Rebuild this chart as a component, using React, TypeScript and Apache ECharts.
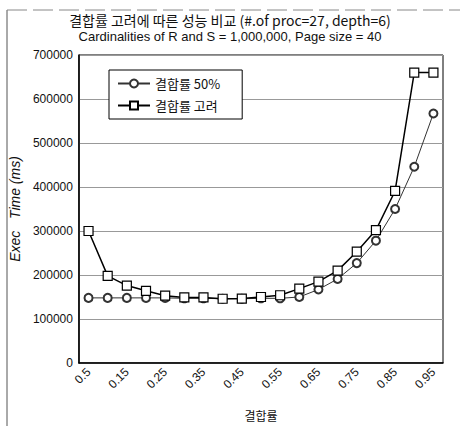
import React, { useEffect, useRef } from "react";
import * as echarts from "echarts";

const categories = ["0.5", "0.1", "0.15", "0.2", "0.25", "0.3", "0.35", "0.4", "0.45", "0.5", "0.55", "0.6", "0.65", "0.7", "0.75", "0.8", "0.85", "0.9", "0.95"];
const rate50 = [148000, 148000, 148000, 148000, 148000, 147000, 147000, 146000, 146000, 147000, 147000, 150000, 167000, 191000, 227000, 278000, 350000, 446000, 567000];
const rateConsidered = [300000, 198000, 176000, 164000, 153000, 149000, 149000, 146000, 146500, 150000, 154000, 169000, 185000, 210000, 253000, 302000, 391000, 660000, 660000];
const seriesNames = ["결합률 50%", "결합률 고려"];

export default function App() {
  const ref = useRef<HTMLDivElement>(null);
  useEffect(() => {
    const chart = echarts.init(ref.current!, null, { renderer: "svg" });
    const font = "'Liberation Sans', Arial, sans-serif";
    chart.setOption({
      animation: false,
      backgroundColor: "#fff",
      title: {
        text: "결합률 고려에 따른 성능 비교 (#.of proc=27, depth=6)",
        subtext: "Cardinalities of R and S = 1,000,000, Page size = 40",
        left: "center",
        top: 8,
        itemGap: 3,
        textStyle: { fontSize: 14, fontWeight: "normal", color: "#111", fontFamily: "'Noto Sans CJK KR', " + font },
        subtextStyle: { fontSize: 13, color: "#111", fontFamily: font },
      },
      grid: { left: 78, right: 17, top: 55, bottom: 59, show: true, borderColor: "#000", borderWidth: 1 },
      legend: {
        orient: "vertical",
        left: 109,
        top: 70,
        data: seriesNames,
        backgroundColor: "#fff",
        borderColor: "#000",
        borderWidth: 1,
        padding: [7, 22, 7, 8],
        itemGap: 9,
        itemWidth: 32,
        itemHeight: 10,
        textStyle: { fontSize: 13, color: "#111", fontFamily: "'Noto Sans CJK KR', " + font },
      },
      xAxis: {
        type: "category",
        data: categories,
        boundaryGap: true,
        name: "결합률",
        nameLocation: "middle",
        nameGap: 46,
        nameTextStyle: { fontSize: 12, color: "#111", fontFamily: "'Noto Sans CJK KR', " + font },
        axisLine: { lineStyle: { color: "#000", width: 1.5 } },
        axisTick: { show: false },
        axisLabel: { rotate: 45, interval: 1, fontSize: 12, color: "#111", fontFamily: font, margin: 7 },
      },
      yAxis: {
        type: "value",
        min: 0,
        max: 700000,
        interval: 100000,
        name: "Exec   Time (ms)",
        nameLocation: "middle",
        nameGap: 50,
        nameTextStyle: { fontSize: 14, fontStyle: "italic", color: "#111", fontFamily: font },
        axisLine: { show: true, lineStyle: { color: "#000", width: 1.5 } },
        axisTick: { show: false },
        axisLabel: { fontSize: 12, color: "#111", fontFamily: font, margin: 6, formatter: (v: number) => String(v) },
        splitLine: { show: true, lineStyle: { color: "#999", width: 1 } },
      },
      graphic: [
        { type: "line", shape: { x1: 7, y1: 10, x2: 7, y2: 426 }, style: { stroke: "#555", lineWidth: 1 } },
        { type: "line", shape: { x1: 7, y1: 10, x2: 460, y2: 10 }, style: { stroke: "#888", lineWidth: 1, lineDash: [20, 6] } },
      ],
      series: [
        {
          name: seriesNames[0],
          type: "line",
          data: rate50,
          symbol: "emptyCircle",
          symbolSize: 8,
          itemStyle: { color: "#333", borderWidth: 1.2 },
          lineStyle: { color: "#333", width: 1 },
          z: 3,
        },
        {
          name: seriesNames[1],
          type: "line",
          data: rateConsidered,
          symbol: "rect",
          symbolSize: 9,
          itemStyle: { color: "#fff", borderColor: "#000", borderWidth: 1.2 },
          lineStyle: { color: "#000", width: 1.5 },
          z: 4,
        },
      ],
    });
    return () => chart.dispose();
  }, []);
  return <div ref={ref} style={{ width: 460, height: 426, position: "absolute", left: 0, top: 0 }} />;
}
